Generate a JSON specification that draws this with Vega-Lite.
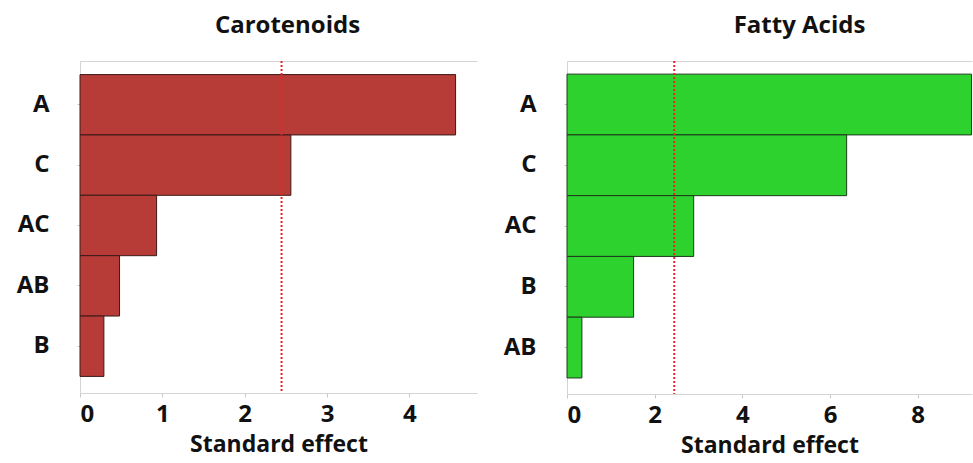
{
  "$schema": "https://vega.github.io/schema/vega-lite/v6.json",
  "padding": {"left": 5, "top": 14, "right": 1, "bottom": 0},
  "background": "white",
  "datasets": {
    "effects": [
      {"panel": "Carotenoids", "term": "A", "effect": 4.56},
      {"panel": "Carotenoids", "term": "C", "effect": 2.56},
      {"panel": "Carotenoids", "term": "AC", "effect": 0.93},
      {"panel": "Carotenoids", "term": "AB", "effect": 0.48},
      {"panel": "Carotenoids", "term": "B", "effect": 0.29},
      {"panel": "Fatty Acids", "term": "A", "effect": 9.23},
      {"panel": "Fatty Acids", "term": "C", "effect": 6.38},
      {"panel": "Fatty Acids", "term": "AC", "effect": 2.89},
      {"panel": "Fatty Acids", "term": "B", "effect": 1.52},
      {"panel": "Fatty Acids", "term": "AB", "effect": 0.34}
    ],
    "critical": [
      {"panel": "Carotenoids", "value": 2.447},
      {"panel": "Fatty Acids", "value": 2.447}
    ]
  },
  "config": {
    "font": "Open Sans",
    "view": {"stroke": null},
    "axis": {
      "labelFont": "Open Sans", "labelFontWeight": "bold", "labelFontSize": 24, "labelColor": "#111",
      "titleFont": "Open Sans", "titleFontWeight": "bold", "titleFontSize": 23, "titleColor": "#111",
      "domainColor": "#d4d4d4", "tickColor": "#c8c8c8", "grid": false
    },
    "title": {"font": "Open Sans", "fontWeight": "bold", "fontSize": 24, "color": "#111"}
  },
  "spacing": 15,
  "hconcat": [
    {
      "title": {"text": "Carotenoids", "dx": 9, "offset": 22},
      "width": 397,
      "height": 332,
      "layer": [
        {
          "data": {"name": "effects"},
          "transform": [{"filter": "datum.panel === 'Carotenoids'"}],
          "mark": {"type": "bar", "fill": "#b73c37", "stroke": "#3a1a18", "strokeWidth": 1},
          "encoding": {
            "y": {"field": "term", "type": "nominal", "sort": "-x",
                  "scale": {"paddingInner": 0, "paddingOuter": 0.25, "align": 0.45},
                  "axis": {"title": null, "tickSize": 3, "labelPadding": 28, "minExtent": 75, "maxExtent": 75}},
            "x": {"field": "effect", "type": "quantitative",
                  "scale": {"domain": [0, 4.82], "nice": false},
                  "axis": {"title": "Standard effect", "values": [0, 1, 2, 3, 4], "tickSize": 4, "labelPadding": 5, "titlePadding": 7}}
          }
        },
        {
          "data": {"name": "critical"},
          "transform": [{"filter": "datum.panel === 'Carotenoids'"}],
          "mark": {"type": "rule", "color": "#e8232a", "strokeWidth": 2, "strokeDash": [2, 2]},
          "encoding": {
            "x": {"field": "value", "type": "quantitative",
                  "axis": {"orient": "top", "labels": false, "ticks": false, "title": null}}
          }
        }
      ],
      "resolve": {"axis": {"x": "independent"}}
    },
    {
      "title": {"text": "Fatty Acids", "dx": 30, "offset": 22},
      "width": 405,
      "height": 333,
      "layer": [
        {
          "data": {"name": "effects"},
          "transform": [{"filter": "datum.panel === 'Fatty Acids'"}],
          "mark": {"type": "bar", "fill": "#2ed22e", "stroke": "#1d3a1d", "strokeWidth": 1},
          "encoding": {
            "y": {"field": "term", "type": "nominal", "sort": "-x",
                  "scale": {"paddingInner": 0, "paddingOuter": 0.24, "align": 0.45},
                  "axis": {"title": null, "tickSize": 3, "labelPadding": 28, "minExtent": 75, "maxExtent": 75}},
            "x": {"field": "effect", "type": "quantitative",
                  "scale": {"domain": [0, 9.24], "nice": false},
                  "axis": {"title": "Standard effect", "values": [0, 2, 4, 6, 8], "tickSize": 4, "labelPadding": 5, "titlePadding": 7}}
          }
        },
        {
          "data": {"name": "critical"},
          "transform": [{"filter": "datum.panel === 'Fatty Acids'"}],
          "mark": {"type": "rule", "color": "#e8232a", "strokeWidth": 2, "strokeDash": [2, 2]},
          "encoding": {
            "x": {"field": "value", "type": "quantitative",
                  "axis": {"orient": "top", "labels": false, "ticks": false, "title": null}}
          }
        }
      ],
      "resolve": {"axis": {"x": "independent"}}
    }
  ]
}
